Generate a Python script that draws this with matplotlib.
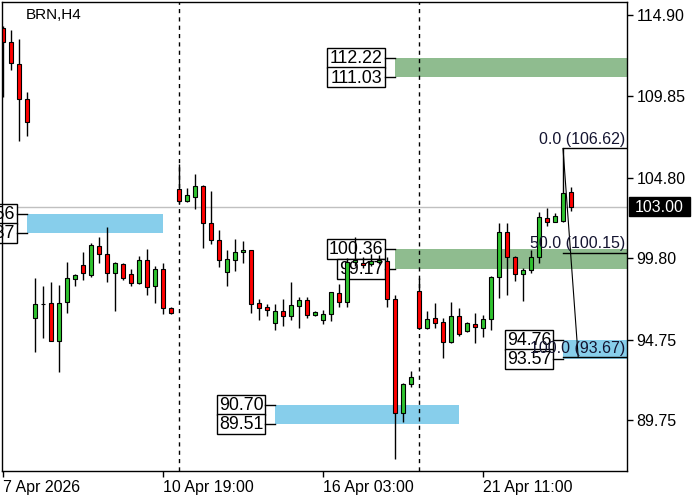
import matplotlib
matplotlib.use("Agg")
import matplotlib.pyplot as plt
from matplotlib.patches import Rectangle
import matplotlib.transforms as mtransforms

plt.rcParams['font.family'] = ['Liberation Sans', 'DejaVu Sans']

# ----------------------
# H4 candles, index 0 = 7 Apr 2026
# ----------------------
opens = [114.09, 113.24, 111.84, 109.67, 96.08, 96.97, 97.02, 94.70, 97.08, 98.54,
         99.37, 98.77, 100.55, 100.06, 98.88, 99.44, 98.81, 98.26, 99.68, 98.09,
         99.12, 96.70, 104.11, 103.38, 103.63, 104.29, 101.98, 100.92, 98.98, 99.72,
         100.18, 100.32, 97.02, 96.79, 95.78, 96.52, 96.21, 96.83, 97.20, 96.27,
         95.96, 96.33, 97.64, 97.08, 99.55, 99.54, 99.45, 99.60, 99.64, 97.28,
         90.19, 92.01, 97.78, 95.47, 96.08, 95.84, 94.60, 96.25, 95.30, 95.71,
         95.47, 96.02, 98.67, 101.42, 99.87, 98.81, 99.08, 99.91, 102.33, 102.08,
         102.12, 103.90]
highs = [114.22, 113.97, 113.39, 110.10, 98.60, 98.09, 98.32, 98.15, 99.58, 98.83,
         100.18, 100.76, 101.13, 101.75, 99.56, 99.50, 99.13, 99.97, 100.40, 99.33,
         99.52, 96.79, 105.66, 104.19, 105.04, 104.37, 103.98, 101.56, 100.32, 100.99,
         100.90, 100.32, 97.26, 96.95, 96.97, 97.26, 98.32, 97.43, 97.43, 96.51,
         96.60, 97.74, 98.21, 99.85, 101.11, 99.90, 100.05, 100.00, 99.87, 97.53,
         92.07, 92.82, 98.57, 96.54, 97.05, 96.08, 97.11, 96.74, 95.84, 96.40,
         96.29, 98.71, 101.98, 101.98, 99.97, 99.19, 100.32, 102.66, 102.91, 102.64,
         106.62, 104.21]
lows = [109.81, 111.49, 107.10, 107.41, 94.01, 94.88, 94.65, 92.74, 96.43, 98.09,
        98.46, 98.67, 99.53, 98.36, 96.56, 98.46, 98.09, 98.19, 97.53, 97.05,
        96.35, 96.38, 103.22, 103.32, 102.87, 100.47, 100.71, 99.29, 98.11, 99.04,
        99.50, 96.40, 95.98, 96.25, 95.36, 95.63, 95.98, 95.50, 96.08, 96.23,
        95.73, 95.94, 96.77, 96.80, 99.30, 99.20, 99.30, 99.45, 96.80, 87.34,
        89.63, 91.80, 95.42, 95.42, 95.47, 93.60, 94.55, 95.01, 95.24, 94.57,
        94.94, 95.36, 97.33, 97.53, 98.40, 97.16, 98.91, 99.50, 101.83, 102.04,
        102.09, 102.74]
closes = [113.24, 111.90, 109.67, 108.24, 96.97, 96.97, 94.70, 97.02, 98.57, 98.75,
          98.88, 100.61, 100.06, 98.88, 99.50, 98.57, 98.26, 99.68, 98.01, 99.12,
          96.70, 96.40, 103.38, 103.73, 104.29, 101.98, 100.92, 99.68, 99.74, 100.18,
          100.32, 96.99, 96.74, 96.62, 96.52, 96.25, 96.91, 97.20, 96.27, 96.46,
          96.35, 97.70, 97.11, 99.60, 99.70, 99.39, 99.62, 99.73, 97.28, 90.19,
          92.01, 92.46, 95.47, 96.02, 95.77, 94.60, 96.25, 95.09, 95.77, 95.53,
          96.02, 98.67, 101.42, 99.87, 98.83, 99.08, 99.91, 102.39, 102.08, 102.43,
          103.86, 103.00]

tick_idx = [0, 20, 40, 60]
tick_labels = ["7 Apr 2026", "10 Apr 19:00", "16 Apr 03:00", "21 Apr 11:00"]
separators = [22, 52]
price_ticks = [89.75, 94.75, 99.80, 104.80, 109.85, 114.90]
last_price = 103.00

# supply / demand zones: top, bottom, start candle, end candle (None = to the right edge)
zone_top = [112.22, 100.36, 102.56, 90.70, 94.76]
zone_bot = [111.03, 99.17, 101.37, 89.51, 93.57]
zone_start = [49, 49, 3, 34, 70]
zone_end = [None, None, 20, 57, None]
zone_kind = ["supply", "supply", "demand", "demand", "demand"]

# fibonacci
fib_high = 106.62
fib_low = 93.67
fib_high_x = 70
fib_low_x = 71.9
fib_levels = [0.0, 50.0, 100.0]

# ----------------------
# Figure
# ----------------------
XMIN, XMAX = -0.09, 78.0
YMIN, YMAX = 86.63, 115.69

fig = plt.figure(figsize=(7, 5), dpi=100)
ax = fig.add_axes([2.3 / 700, 29.3 / 500, 624.7 / 700, 468.4 / 500])
ax.set_xlim(XMIN, XMAX)
ax.set_ylim(YMIN, YMAX)

px_x = 624.7 / (XMAX - XMIN)   # pixels per candle
px_y = 468.4 / (YMAX - YMIN)   # pixels per price unit

green = "#2fc42f"
red = "#ff0000"
colors = {"supply": "#8fbc8f", "demand": "#87ceeb"}

# zones + labels
for top, bot, x0, x1, kind in zip(zone_top, zone_bot, zone_start, zone_end, zone_kind):
    right = XMAX + 1 if x1 is None else x1
    ax.add_patch(Rectangle((x0, bot), right - x0, top - bot, facecolor=colors[kind],
                           edgecolor="none", zorder=1))
    box_right = x0 - 10 / px_x
    for p in (top, bot):
        s = f"{p:.2f}"
        w = (10 * (len(s) - 1) + 8) / px_x
        h = 20 / px_y
        # labels near the left edge are cut by the picture edge, not by the axes
        ax.add_patch(Rectangle((box_right - w, p - h / 2), w, h, facecolor="white",
                               edgecolor="black", lw=1, zorder=2, clip_on=False))
        ax.text(box_right - w / 2, p - 0.6 / px_y, s, ha="center", va="center",
                fontsize=12.8, zorder=2.1, clip_on=False)
        ax.plot([box_right, x0], [p, p], color="black", lw=1, zorder=2, clip_on=False)

# current price line and period separators
ax.axhline(last_price, color="#c0c0c0", lw=1, zorder=1.5)
for s in separators:
    ax.axvline(s, color="black", lw=1, ls=(0, (3, 3)), zorder=1.6)

# candles
xs = list(range(len(opens)))
ax.vlines(xs, lows, highs, color="black", lw=1, zorder=3)
body_col = [green if c > o else (red if c < o else "black") for o, c in zip(opens, closes)]
ax.bar(xs, [c - o for o, c in zip(opens, closes)], bottom=opens, width=0.6,
       color=body_col, edgecolor="black", linewidth=0.8, zorder=3.1)

# fibonacci retracement
ax.plot([fib_high_x, fib_low_x], [fib_high, fib_low], color="black", lw=0.8, zorder=4)
for lvl in fib_levels:
    p = fib_high - lvl / 100 * (fib_high - fib_low)
    ax.plot([fib_high_x, XMAX], [p, p], color="black", lw=1, zorder=4)
    ax.text(XMAX - 2 / px_x, p + 1.5 / px_y, f"{lvl:.1f} ({p:.2f})", ha="right",
            va="bottom", fontsize=11.5, color="#141430", zorder=5)

# axes styling
for sp in ax.spines.values():
    sp.set_color("black")
    sp.set_linewidth(1)
    sp.set_zorder(6)
ax.yaxis.tick_right()
ax.set_yticks(price_ticks)
ax.set_yticklabels([f"{p:.2f}" for p in price_ticks])
ax.set_xticks(tick_idx)
ax.set_xticklabels(tick_labels, ha="left")
ax.tick_params(axis="both", direction="out", length=4, width=1, labelsize=11.5,
               colors="black", pad=3)

# last price tag
trans = mtransforms.blended_transform_factory(ax.transAxes, ax.transData)
ax.add_patch(Rectangle((1 + 2 / 624.7, last_price - 9.5 / px_y), 61 / 624.7, 19 / px_y,
                       transform=trans, facecolor="black", edgecolor="black",
                       clip_on=False, zorder=6))
ax.text(1 + 32.5 / 624.7, last_price - 0.5 / px_y, f"{last_price:.2f}", transform=trans,
        ha="center", va="center", color="white", fontsize=11.5, zorder=7)

# symbol title
ax.text(0.038, 0.973, "BRN,H4", transform=ax.transAxes, ha="left", va="center",
        fontsize=11, color="black")

fig.savefig("out.png", dpi=100)
